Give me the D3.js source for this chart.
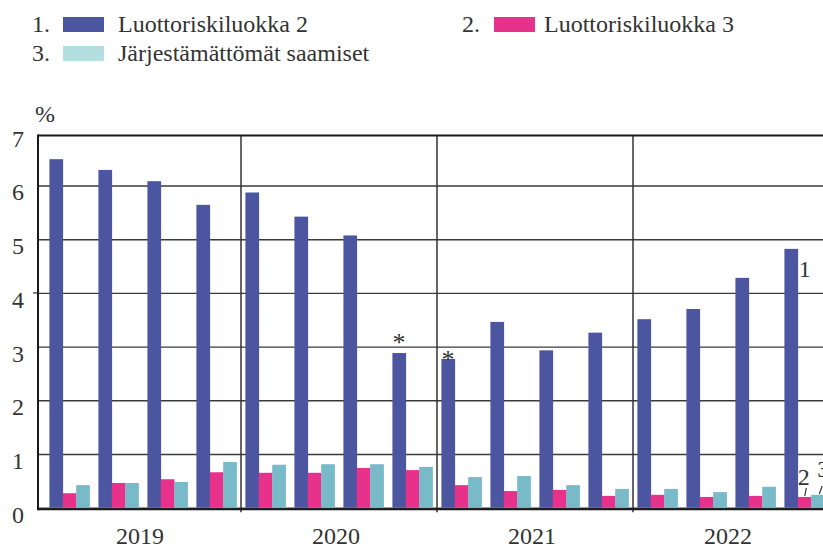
<!DOCTYPE html>
<html>
  <head>
    <meta charset="UTF-8">
    <title>Luottoriskiluokat</title>
    <script src="https://d3js.org/d3.v7.min.js"></script>
    <style>
      body { margin: 0; background: #fff; }
      svg text { font-family: "Liberation Serif", "Times New Roman", "DejaVu Serif", serif; fill: #333; }
    </style>
  </head>
  <body>
    <svg width="823" height="551"></svg>
    <script>
      const years = ["2019", "2020", "2021", "2022"];
      const quarters = ["2019Q1", "2019Q2", "2019Q3", "2019Q4",
                        "2020Q1", "2020Q2", "2020Q3", "2020Q4",
                        "2021Q1", "2021Q2", "2021Q3", "2021Q4",
                        "2022Q1", "2022Q2", "2022Q3", "2022Q4"];
      const stage2 = [6.49, 6.29, 6.08, 5.64, 5.87, 5.42, 5.07, 2.88,
                      2.77, 3.46, 2.93, 3.26, 3.51, 3.70, 4.28, 4.82];
      const stage3 = [0.27, 0.46, 0.53, 0.66, 0.65, 0.65, 0.74, 0.70,
                      0.42, 0.31, 0.33, 0.22, 0.24, 0.20, 0.22, 0.20];
      const forborne = [0.42, 0.46, 0.48, 0.85, 0.80, 0.81, 0.81, 0.76,
                        0.57, 0.59, 0.42, 0.35, 0.35, 0.29, 0.39, 0.24];
      const seriesNames = ["Luottoriskiluokka 2", "Luottoriskiluokka 3", "Järjestämättömät saamiset"];
      const yTicks = [0, 1, 2, 3, 4, 5, 6, 7];
      const starred = ["2020Q4", "2021Q1"];

      const colors = ["#4c56a0", "#e8318b", "#78bac8"];
      const legendColors = ["#4c56a0", "#e8318b", "#b4dfe0"];
      const fontSize = 24;

      const svg = d3.select("svg");
      const left = 38, right = 823;

      const y = d3.scaleLinear().domain([0, 7]).range([507.7, 131.8]);
      const x0 = d3.scaleBand().domain(quarters).range([45, 829])
        .paddingInner(0.18).paddingOuter(0.09);
      const x1 = d3.scaleBand().domain(d3.range(3)).range([0, x0.bandwidth()]);

      const rows = quarters.map((q, i) => ({ q, vals: [stage2[i], stage3[i], forborne[i]] }));

      // gridlines + tick labels
      const yAxis = svg.append("g")
        .attr("transform", `translate(${left},0)`)
        .call(d3.axisLeft(y).tickValues(yTicks).tickFormat(d3.format("d"))
          .tickSizeInner(-(right - left)).tickSizeOuter(0).tickPadding(14));
      yAxis.attr("font-family", null);
      yAxis.select(".domain").remove();
      yAxis.selectAll(".tick line").attr("stroke", "#3a3a3a").attr("stroke-width", 1.4);
      yAxis.selectAll(".tick text").attr("font-size", fontSize).attr("dy", "0.6em");
      yAxis.selectAll(".tick").filter(d => d === 7).select("line").remove();

      // small outward tick at 4
      svg.append("line")
        .attr("x1", left - 5).attr("x2", left)
        .attr("y1", y(4)).attr("y2", y(4))
        .attr("stroke", "#333").attr("stroke-width", 1.2);

      // bars
      const groups = svg.append("g").selectAll("g")
        .data(rows)
        .join("g")
        .attr("transform", d => `translate(${x0(d.q)},0)`);
      groups.selectAll("rect")
        .data(d => d.vals.map((v, k) => ({ v, k })))
        .join("rect")
        .attr("x", d => x1(d.k))
        .attr("width", x1.bandwidth() + 0.3)
        .attr("y", d => y(d.v))
        .attr("height", d => y(0) - y(d.v))
        .attr("fill", d => colors[d.k]);

      // year separators
      const half = (x0.step() - x0.bandwidth()) / 2;
      svg.append("g").selectAll("line")
        .data(years.slice(1))
        .join("line")
        .attr("x1", d => x0(d + "Q1") - half)
        .attr("x2", d => x0(d + "Q1") - half)
        .attr("y1", y(6.92)).attr("y2", y(0) + 4.5)
        .attr("stroke", "#333").attr("stroke-width", 1.5);

      // frame: top, left, baseline
      svg.append("line").attr("x1", left).attr("x2", right)
        .attr("y1", y(6.93)).attr("y2", y(6.93))
        .attr("stroke", "#1a1a1a").attr("stroke-width", 2);
      svg.append("line").attr("x1", left).attr("x2", left)
        .attr("y1", y(6.93) - 1).attr("y2", y(0) + 2.5)
        .attr("stroke", "#1a1a1a").attr("stroke-width", 2);
      svg.append("line").attr("x1", left).attr("x2", right)
        .attr("y1", y(0) + 1.6).attr("y2", y(0) + 1.6)
        .attr("stroke", "#1a1a1a").attr("stroke-width", 2);

      // year labels
      svg.append("g").selectAll("text")
        .data(years)
        .join("text")
        .attr("x", d => (x0(d + "Q1") + x0(d + "Q4") + x0.bandwidth()) / 2 - 3)
        .attr("y", 544)
        .attr("text-anchor", "middle")
        .attr("font-size", fontSize)
        .text(d => d);

      // % label
      svg.append("text").attr("x", 35).attr("y", 122).attr("font-size", fontSize).text("%");

      // asterisks
      svg.append("g").selectAll("text")
        .data(starred)
        .join("text")
        .attr("x", d => x0(d) + x1(0) + x1.bandwidth() / 2)
        .attr("y", (d, i) => i === 0 ? y(stage2[7]) - 2 : y(stage2[8]) + 9)
        .attr("text-anchor", "middle")
        .attr("font-size", 26)
        .text("*");

      // series number labels at right end
      const last = quarters.length - 1;
      const lx = x0(quarters[last]);
      svg.append("text").attr("x", lx + x1(1) + 1).attr("y", y(stage2[last]) + 28)
        .attr("font-size", fontSize).text("1");
      svg.append("text").attr("x", lx + x1(1) + 0).attr("y", 485)
        .attr("font-size", fontSize).text("2");
      svg.append("line")
        .attr("x1", lx + x1(1) + 8.5).attr("y1", 488)
        .attr("x2", lx + x1(1) + 7).attr("y2", 496)
        .attr("stroke", "#333").attr("stroke-width", 1.2);
      svg.append("text").attr("x", lx + x1(2) + 6).attr("y", 477)
        .attr("font-size", fontSize).text("3");
      svg.append("line")
        .attr("x1", lx + x1(2) + 11).attr("y1", 486)
        .attr("x2", lx + x1(2) + 8).attr("y2", 494)
        .attr("stroke", "#333").attr("stroke-width", 1.2);

      // legend
      const legendPos = [
        { nx: 32, sx: 63, tx: 118, y: 32 },
        { nx: 462, sx: 494, tx: 544, y: 32 },
        { nx: 32, sx: 63, tx: 118, y: 61 }
      ];
      const legend = svg.append("g").selectAll("g")
        .data(seriesNames)
        .join("g");
      legend.append("text")
        .attr("x", (d, i) => legendPos[i].nx)
        .attr("y", (d, i) => legendPos[i].y)
        .attr("font-size", fontSize)
        .text((d, i) => (i + 1) + ".");
      legend.append("rect")
        .attr("x", (d, i) => legendPos[i].sx)
        .attr("y", (d, i) => legendPos[i].y - 15)
        .attr("width", 41).attr("height", 15)
        .attr("fill", (d, i) => legendColors[i]);
      legend.append("text")
        .attr("x", (d, i) => legendPos[i].tx)
        .attr("y", (d, i) => legendPos[i].y)
        .attr("font-size", fontSize)
        .text(d => d);
    </script>
  </body>
</html>
